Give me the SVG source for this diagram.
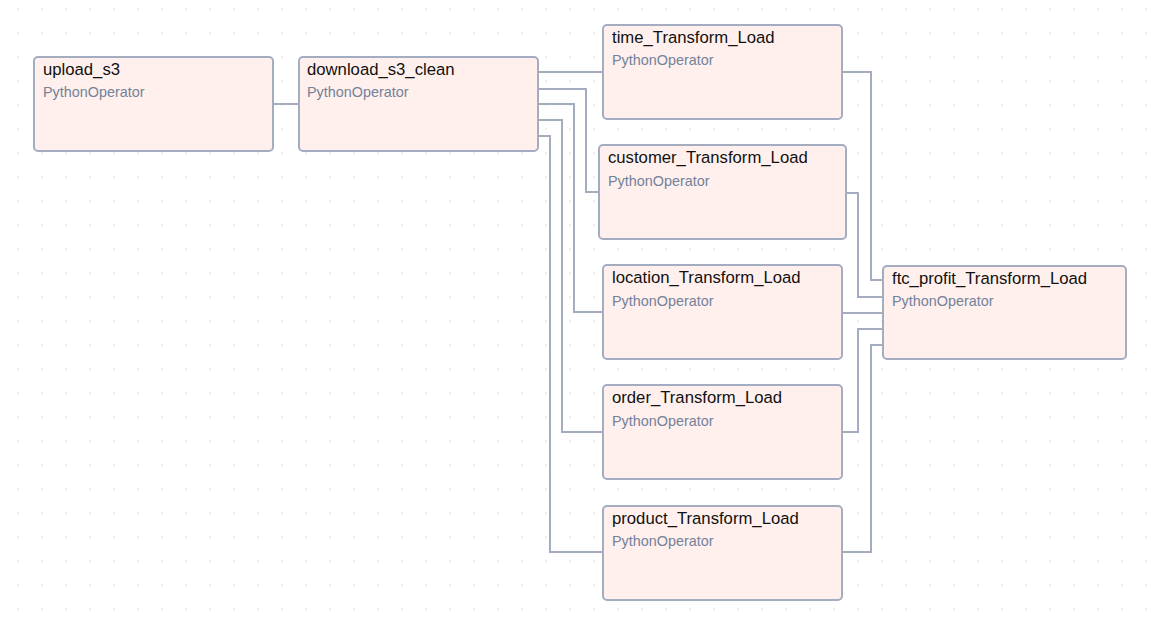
<svg xmlns="http://www.w3.org/2000/svg" width="1166" height="627" viewBox="0 0 1166 627">
<defs>
<pattern id="dots" x="0" y="0" width="24" height="24" patternUnits="userSpaceOnUse">
<rect x="17.5" y="8.5" width="1" height="1" fill="#b8b8b8"/>
</pattern>
<style>
.node rect{fill:#fff0ed;stroke:#a3adbf;stroke-width:2}
.title{font-family:"Liberation Sans",Arial,sans-serif;font-size:16.7px;fill:#111111}
.sub{font-family:"Liberation Sans",Arial,sans-serif;font-size:14.4px;fill:#74829a}
#edges path{fill:none;stroke:#a3adbf;stroke-width:2}
</style>
</defs>
<rect width="1166" height="627" fill="#ffffff"/>
<rect width="1166" height="627" fill="url(#dots)"/>
<g id="edges">
<path d="M273 104 H299"/>
<path d="M538 72 H603"/>
<path d="M538 89 H586 V192 H599"/>
<path d="M538 104 H574 V312 H603"/>
<path d="M538 120 H562 V432 H603"/>
<path d="M538 136 H550 V552 H603"/>
<path d="M842 72 H871 V280 H883"/>
<path d="M846 193 H858 V297 H883"/>
<path d="M842 313 H883"/>
<path d="M842 432 H858 V329 H883"/>
<path d="M842 552 H871 V345 H883"/>
</g>
<g id="upload_s3" class="node"><rect x="34" y="57" width="239" height="94" rx="4"/><text class="title" x="43" y="75">upload_s3</text><text class="sub" x="43" y="97">PythonOperator</text></g>
<g id="download_s3_clean" class="node"><rect x="299" y="57" width="239" height="94" rx="4"/><text class="title" x="307" y="75">download_s3_clean</text><text class="sub" x="307" y="97">PythonOperator</text></g>
<g id="time_Transform_Load" class="node"><rect x="603" y="25" width="239" height="94" rx="4"/><text class="title" x="612" y="43">time_Transform_Load</text><text class="sub" x="612" y="65">PythonOperator</text></g>
<g id="customer_Transform_Load" class="node"><rect x="599" y="145" width="247" height="94" rx="4"/><text class="title" x="608" y="163">customer_Transform_Load</text><text class="sub" x="608" y="186">PythonOperator</text></g>
<g id="location_Transform_Load" class="node"><rect x="603" y="265" width="239" height="94" rx="4"/><text class="title" x="612" y="283">location_Transform_Load</text><text class="sub" x="612" y="306">PythonOperator</text></g>
<g id="order_Transform_Load" class="node"><rect x="603" y="385" width="239" height="94" rx="4"/><text class="title" x="612" y="403">order_Transform_Load</text><text class="sub" x="612" y="426">PythonOperator</text></g>
<g id="product_Transform_Load" class="node"><rect x="603" y="506" width="239" height="94" rx="4"/><text class="title" x="612" y="524">product_Transform_Load</text><text class="sub" x="612" y="546">PythonOperator</text></g>
<g id="ftc_profit_Transform_Load" class="node"><rect x="883" y="266" width="243" height="93" rx="4"/><text class="title" x="892" y="284">ftc_profit_Transform_Load</text><text class="sub" x="892" y="306">PythonOperator</text></g>
</svg>
